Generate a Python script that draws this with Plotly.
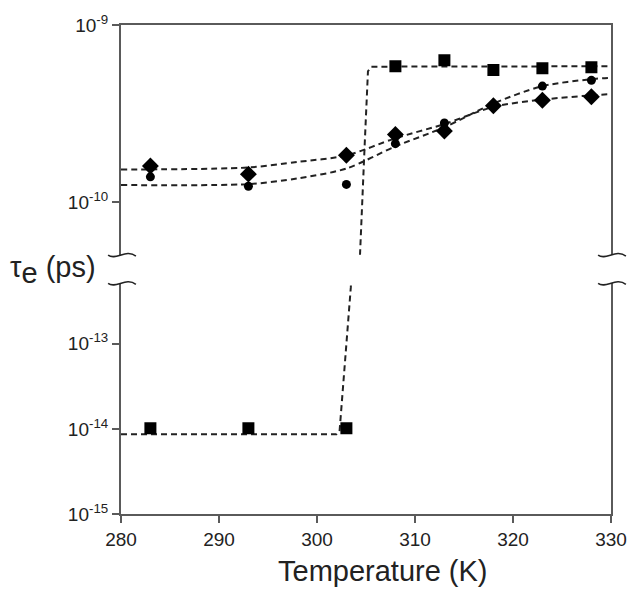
import plotly.graph_objects as go

# ---- data ----
temps = [283, 293, 303, 308, 313, 318, 323, 328]
tau_square = [1.02e-14, 1.02e-14, 1.02e-14, 5.85e-10, 6.33e-10, 5.58e-10, 5.70e-10, 5.78e-10]
tau_circle = [1.39e-10, 1.23e-10, 1.26e-10, 2.14e-10, 2.80e-10, 3.50e-10, 4.52e-10, 4.87e-10]
tau_diamond = [1.60e-10, 1.44e-10, 1.84e-10, 2.41e-10, 2.52e-10, 3.50e-10, 3.76e-10, 3.94e-10]

fit_square_T = [280, 302.0, 302.3, 303.45, 304.39, 304.87, 305.2, 305.54, 330]
fit_square_tau = [8.67e-15, 8.67e-15, 9.33e-15, 4.60e-13, 5.06e-11, 2.14e-10, 5.48e-10, 5.82e-10, 5.85e-10]
fit_T = [280, 293, 298, 303, 308, 313, 318, 323, 328.5, 330]
fit_circle_tau = [1.250e-10, 1.265e-10, 1.361e-10, 1.549e-10, 2.065e-10, 2.649e-10, 3.606e-10, 4.519e-10, 4.977e-10, 5.03e-10]
fit_diamond_tau = [1.528e-10, 1.570e-10, 1.687e-10, 1.837e-10, 2.296e-10, 2.761e-10, 3.451e-10, 3.793e-10, 4.027e-10, 4.07e-10]

x_ticks = [280, 290, 300, 310, 320, 330]
upper_ticks = [1e-10, 1e-9]
upper_labels = ["10<sup>-10</sup>", "10<sup>-9</sup>"]
lower_ticks = [1e-15, 1e-14, 1e-13]
lower_labels = ["10<sup>-15</sup>", "10<sup>-14</sup>", "10<sup>-13</sup>"]

# ---- layout geometry (pixels) ----
W, H = 639, 597
L, R, T, B = 121, 615, 20, 514
PW, PH = R - L, B - T
UP_BOT, LO_TOP = 252, 281

def paper(x, y):
    return (x - L) / PW, (B - y) / PH

AX = "#5a5a5a"
TXT = "#222222"
FONT = "Liberation Sans, Arial, sans-serif"

fig = go.Figure()

line_style = dict(color="#222222", width=2, dash="6px,4px")
for xa, ya in (("x", "y"), ("x2", "y2")):
    fig.add_trace(go.Scatter(x=fit_square_T, y=fit_square_tau, mode="lines",
                             line=line_style, xaxis=xa, yaxis=ya, showlegend=False))
    fig.add_trace(go.Scatter(x=fit_T, y=fit_circle_tau, mode="lines",
                             line=dict(line_style, shape="spline", smoothing=0.8),
                             xaxis=xa, yaxis=ya, showlegend=False))
    fig.add_trace(go.Scatter(x=fit_T, y=fit_diamond_tau, mode="lines",
                             line=dict(line_style, shape="spline", smoothing=0.8),
                             xaxis=xa, yaxis=ya, showlegend=False))
    fig.add_trace(go.Scatter(x=temps, y=tau_square, mode="markers",
                             marker=dict(symbol="square", size=12, color="black"),
                             xaxis=xa, yaxis=ya, showlegend=False))
    fig.add_trace(go.Scatter(x=temps, y=tau_circle, mode="markers",
                             marker=dict(symbol="circle", size=9, color="black"),
                             xaxis=xa, yaxis=ya, showlegend=False))
    fig.add_trace(go.Scatter(x=temps, y=tau_diamond, mode="markers",
                             marker=dict(symbol="diamond", size=13, color="black"),
                             xaxis=xa, yaxis=ya, showlegend=False))

lo_dom = [0, (B - LO_TOP) / PH]
up_dom = [(B - UP_BOT) / PH, 1]

tickfont = dict(family=FONT, size=19, color=TXT)

fig.update_layout(
    width=W, height=H,
    margin=dict(l=L, r=W - R, t=T, b=H - B),
    paper_bgcolor="white", plot_bgcolor="white",
    font=dict(family=FONT, color=TXT),
    xaxis=dict(domain=[0, 1], anchor="y", range=[280, 330], tickvals=x_ticks,
               ticks="outside", ticklen=7, tickwidth=1.5, tickcolor=AX,
               showline=True, linecolor=AX, linewidth=2, showgrid=False,
               zeroline=False, tickfont=tickfont),
    xaxis2=dict(domain=[0, 1], anchor="y2", matches="x", range=[280, 330], side="top",
                showticklabels=False, ticks="", showline=True, linecolor=AX,
                linewidth=2, showgrid=False, zeroline=False),
    yaxis=dict(domain=lo_dom, anchor="x", type="log", range=[-15, -12.29],
               tickvals=lower_ticks, ticktext=lower_labels, ticks="outside",
               ticklen=7, tickwidth=1.5, tickcolor=AX, showline=True, mirror=True,
               linecolor=AX, linewidth=2, showgrid=False, zeroline=False,
               tickfont=tickfont),
    yaxis2=dict(domain=up_dom, anchor="x2", type="log", range=[-10.296, -9],
                tickvals=upper_ticks, ticktext=upper_labels, ticks="outside",
                ticklen=7, tickwidth=1.5, tickcolor=AX, showline=True, mirror=True,
                linecolor=AX, linewidth=2, showgrid=False, zeroline=False,
                tickfont=tickfont),
)

# axis break marks (wavy)
shapes = []
for cx in (L, R):
    for cy in (UP_BOT + 0.5, LO_TOP):
        p0 = paper(cx - 13, cy)
        c1 = paper(cx - 5, cy + 6)
        c2 = paper(cx + 5, cy - 7)
        p3 = paper(cx + 15, cy + 1)
        path = (f"M {p0[0]},{p0[1]} C {c1[0]},{c1[1]} {c2[0]},{c2[1]} {p3[0]},{p3[1]}")
        shapes.append(dict(type="path", path=path, xref="paper", yref="paper",
                           line=dict(color="#222222", width=1.6)))
fig.update_layout(shapes=shapes)

ty = paper(0, 267)[1]
tx = paper(385, 572)
fig.add_annotation(text='τ<sub><span style="font-size:29px">e</span></sub> (ps)',
                   x=paper(7, 0)[0], y=ty, xref="paper",
                   yref="paper", xanchor="left", yanchor="middle", showarrow=False,
                   font=dict(family=FONT, size=29, color=TXT))
fig.add_annotation(text="Temperature (K)", x=tx[0], y=tx[1], xref="paper", yref="paper",
                   xanchor="center", yanchor="middle", showarrow=False,
                   font=dict(family=FONT, size=29, color=TXT))

fig.write_html("out.html", config={"displayModeBar": False},
               post_script="document.body.style.margin='0';")
